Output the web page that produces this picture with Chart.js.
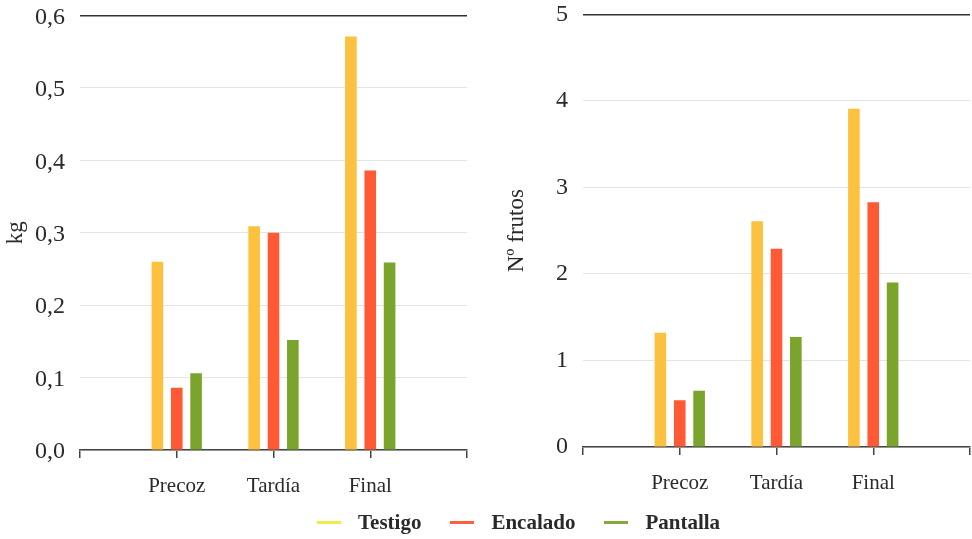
<!DOCTYPE html>
<html>
<head>
<meta charset="utf-8">
<script src="https://cdn.jsdelivr.net/npm/chart.js@4.4.1/dist/chart.umd.min.js"></script>
<style>
    body { margin: 0; background: #fff; }
    #wrap { position: relative; width: 972px; height: 539px; overflow: hidden; }
    canvas { position: absolute; }
    #legend {
        position: absolute; left: 317px; top: 510px; display: flex; align-items: center;
        font-family: "Liberation Serif", "DejaVu Serif", serif; font-weight: bold; font-size: 21px; color: #2a2a2a;
    }
    .mark { display: inline-block; width: 24px; height: 3px; margin-right: 17px; }
    .item { display: flex; align-items: center; margin-right: 29px; }
</style>
</head>
<body>
<div id="wrap">
    <canvas id="kgChart" width="483" height="553" style="left:0;top:-14px"></canvas>
    <canvas id="frutosChart" width="496" height="554" style="left:490px;top:-15px"></canvas>
    <div id="legend"></div>
</div>
<script>
// Categories and series
const categories = ['Precoz', 'Tardía', 'Final'];
const seriesNames = ['Testigo', 'Encalado', 'Pantalla'];

// Left panel: weight (kg)
const kgTestigo = [0.26, 0.309, 0.571];
const kgEncalado = [0.086, 0.300, 0.386];
const kgPantalla = [0.106, 0.152, 0.259];

// Right panel: number of fruits
const frutosTestigo = [1.32, 2.61, 3.91];
const frutosEncalado = [0.54, 2.29, 2.83];
const frutosPantalla = [0.65, 1.27, 1.90];

// Tick labels
const kgTicks = ['0,0', '0,1', '0,2', '0,3', '0,4', '0,5', '0,6'];
const frutosTicks = ['0', '1', '2', '3', '4', '5'];

const barColors = ['#fcc13e', '#ff5a35', '#7ba42c'];
const legendColors = ['#f3ea4e', '#ff6040', '#86a83a'];
const serif = '"Liberation Serif", "DejaVu Serif", serif';
const textColor = '#2a2a2a';

// Empty slots at both ends so the groups sit on the inner ticks
function padded(arr) {
    return [null, ...arr, null];
}

function buildChart(canvasId, series, tickLabels, yMax, step, title, opts) {
    const ctx = document.getElementById(canvasId).getContext('2d');
    return new Chart(ctx, {
        type: 'bar',
        data: {
            labels: padded(categories).map(c => c || ''),
            datasets: series.map((values, i) => ({
                label: seriesNames[i],
                data: padded(values),
                backgroundColor: barColors[i],
                barPercentage: 0.6,
                categoryPercentage: 0.6
            }))
        },
        options: {
            responsive: false,
            animation: false,
            layout: { padding: opts.padding },
            plugins: { legend: { display: false }, tooltip: { enabled: false } },
            scales: {
                x: {
                    offset: false,
                    grid: {
                        offset: false,
                        drawOnChartArea: false,
                        drawTicks: true,
                        tickLength: 8,
                        color: '#444',
                        lineWidth: 1.5
                    },
                    border: { display: true, color: '#444', width: 1.5 },
                    ticks: {
                        color: textColor,
                        font: { family: serif, size: 21 },
                        padding: 16,
                        maxRotation: 0,
                        autoSkip: false
                    },
                    afterFit: scale => { scale.height = 50; }
                },
                y: {
                    min: 0,
                    max: yMax,
                    ticks: {
                        stepSize: step,
                        padding: 15,
                        labelOffset: opts.labelOffset,
                        color: textColor,
                        font: { family: serif, size: 24 },
                        callback: (value, index) => tickLabels[index]
                    },
                    grid: {
                        drawTicks: false,
                        color: c => (c.index === tickLabels.length - 1 ? '#333' : '#e4e4e4'),
                        lineWidth: c => (c.index === tickLabels.length - 1 ? 1.5 : 1)
                    },
                    border: { display: false },
                    title: {
                        display: true,
                        text: title,
                        color: textColor,
                        font: { family: serif, size: 23 },
                        padding: opts.titlePadding
                    },
                    afterFit: scale => { scale.width = opts.yWidth; }
                }
            }
        }
    });
}

buildChart('kgChart', [kgTestigo, kgEncalado, kgPantalla], kgTicks, 0.6, 0.1, 'kg', {
    padding: { left: 0, right: 0, top: 0, bottom: 39 },
    yWidth: 80,
    labelOffset: 2,
    titlePadding: { top: 2, bottom: 0 }
});

buildChart('frutosChart', [frutosTestigo, frutosEncalado, frutosPantalla], frutosTicks, 5, 1, 'Nº frutos', {
    padding: { left: 0, right: 0, top: 0, bottom: 42 },
    yWidth: 93,
    labelOffset: 0,
    titlePadding: { top: 13, bottom: 0 }
});

// Shared legend below both panels
const legend = document.getElementById('legend');
seriesNames.forEach((name, i) => {
    legend.insertAdjacentHTML('beforeend',
        `<span class="item"><span class="mark" style="background:${legendColors[i]}"></span>${name}</span>`);
});
</script>
</body>
</html>
